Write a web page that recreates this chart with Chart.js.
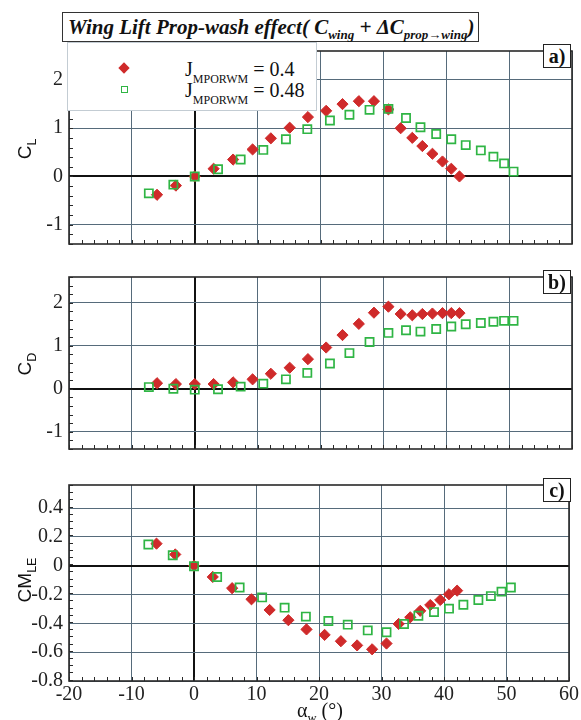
<!DOCTYPE html>
<html><head><meta charset="utf-8">
<script src="https://cdn.jsdelivr.net/npm/chart.js@4.4.1/dist/chart.umd.min.js"></script>
<style>
body{margin:0;background:#fff;width:581px;height:720px;position:relative;overflow:hidden;font-family:"Liberation Serif",serif;}
canvas{position:absolute;left:0;}
.ov{position:absolute;white-space:nowrap;}
#title{left:62px;top:12px;width:410px;height:28px;border:1.5px solid #333;background:#fff;z-index:5;
 font:bold italic 21px "Liberation Serif",serif;color:#111;line-height:28px;padding-left:5px;box-sizing:content-box;}
#title sub{font-size:13px;vertical-align:-5px;line-height:0;}
#legend{left:67px;top:42px;width:248px;height:67px;border:1px solid #c3ccd3;background:#fff;z-index:4;}
.ltxt{position:absolute;left:117px;font:20px "Liberation Serif",serif;color:#111;line-height:20px;}
.ltxt sub{font-size:12px;vertical-align:-7px;line-height:0;}
.dia{position:absolute;width:8px;height:8px;background:#cf2a2a;transform:rotate(45deg);}
.sq{position:absolute;width:5px;height:5px;border:1.7px solid #2fb544;background:#fff;}
.tag{position:absolute;width:26px;height:22px;border:1.5px solid #222;background:#fff;font:bold 20px "Liberation Serif",serif;
 text-align:center;line-height:22px;color:#111;z-index:3;}
.ytitle{position:absolute;font:19px "Liberation Sans",Arial,sans-serif;color:#111;transform:translate(-50%,-50%) rotate(-90deg);white-space:nowrap;}
.ytitle sub{font-size:12.5px;vertical-align:-5px;line-height:0;}
#xtitle{position:absolute;left:320px;top:710px;transform:translate(-50%,-50%);font:20px "Liberation Serif",serif;color:#111;white-space:nowrap;}
#xtitle sub{font-size:12.5px;vertical-align:-5px;line-height:0;}
</style></head><body>
<canvas id="ca" width="581" height="229" style="top:33px"></canvas>
<canvas id="cb" width="581" height="208" style="top:259px"></canvas>
<canvas id="cc" width="581" height="253" style="top:467px"></canvas>

<div id="title" class="ov">Wing Lift Prop-wash effect( C<sub>wing</sub> + ΔC<sub>prop→wing</sub>)</div>
<div id="legend" class="ov">
  <div class="dia" style="left:52px;top:21px"></div>
  <div class="ltxt" style="top:16px">J<sub>MPORWM</sub> = 0.4</div>
  <div class="sq" style="left:53px;top:43px"></div>
  <div class="ltxt" style="top:37px">J<sub>MPORWM</sub> = 0.48</div>
</div>
<div class="tag" style="left:543px;top:44px">a)</div>
<div class="tag" style="left:543px;top:270px">b)</div>
<div class="tag" style="left:543px;top:478px">c)</div>
<div class="ytitle" style="left:25px;top:149px">C<sub>L</sub></div>
<div class="ytitle" style="left:25px;top:364px">C<sub>D</sub></div>
<div class="ytitle" style="left:25px;top:580px">CM<sub>LE</sub></div>
<div id="xtitle">α<sub>w</sub> (°)</div>

<script>
// ---- data ----
const alphaJ04  = [-6, -3, 0, 3, 6.1, 9.2, 12.1, 15.1, 18, 20.9, 23.5, 26.1, 28.5, 30.8, 32.75, 34.6, 36.2, 37.8, 39.4, 40.8, 42.1];
const alphaJ048 = [-7.3, -3.4, 0, 3.7, 7.3, 10.9, 14.5, 17.9, 21.5, 24.6, 27.8, 30.8, 33.6, 35.9, 38.4, 40.8, 43.1, 45.5, 47.5, 49.2, 50.7];

const clJ04  = [-0.38, -0.19, 0, 0.16, 0.35, 0.56, 0.79, 1.01, 1.23, 1.36, 1.50, 1.56, 1.56, 1.39, 1.00, 0.80, 0.63, 0.47, 0.31, 0.16, 0.0];
const clJ048 = [-0.35, -0.17, 0, 0.15, 0.35, 0.55, 0.77, 0.98, 1.16, 1.28, 1.38, 1.40, 1.21, 1.02, 0.88, 0.77, 0.65, 0.54, 0.41, 0.27, 0.10];

const cdJ04  = [0.13, 0.11, 0.11, 0.11, 0.15, 0.22, 0.35, 0.49, 0.69, 0.96, 1.25, 1.51, 1.77, 1.91, 1.74, 1.71, 1.74, 1.75, 1.76, 1.76, 1.76];
const cdJ048 = [0.04, 0.0, -0.02, -0.01, 0.05, 0.12, 0.22, 0.37, 0.59, 0.83, 1.09, 1.30, 1.36, 1.33, 1.39, 1.45, 1.50, 1.53, 1.56, 1.58, 1.58];

const cmJ04  = [0.153, 0.078, 0, -0.078, -0.156, -0.233, -0.307, -0.378, -0.442, -0.48, -0.524, -0.553, -0.58, -0.54, -0.404, -0.358, -0.313, -0.273, -0.238, -0.198, -0.173];
const cmJ048 = [0.147, 0.073, -0.004, -0.078, -0.151, -0.22, -0.291, -0.353, -0.384, -0.409, -0.449, -0.462, -0.404, -0.347, -0.322, -0.298, -0.271, -0.238, -0.211, -0.18, -0.151];

const seriesLabels = ['J_MPORWM = 0.4', 'J_MPORWM = 0.48'];
const xTicks  = [-20, -10, 0, 10, 20, 30, 40, 50, 60];
const clTicks = [-1, 0, 1, 2];
const cdTicks = [-1, 0, 1, 2];
const cmTicks = [-0.8, -0.6, -0.4, -0.2, 0, 0.2, 0.4];

// ---- styling ----
const RED = '#cf2a2a', GREEN = '#2fb544', GRID = '#566b7b', FRAME = '#2a2a2a';
const tickFont = {family: 'Liberation Serif, Times New Roman, serif', size: 20};

const framePlugin = {
  id: 'frame',
  beforeDatasetsDraw(chart, args, opts) {
    const {ctx, chartArea: a, scales: {x, y}} = chart;
    ctx.save();
    ctx.strokeStyle = FRAME;
    ctx.lineWidth = 1;
    ctx.beginPath();
    for (let v = x.min; v <= x.max + 1e-9; v += opts.xMinor) {
      const px = Math.round(x.getPixelForValue(v)) + 0.5;
      ctx.moveTo(px, a.bottom); ctx.lineTo(px, a.bottom - 4);
    }
    const n = Math.round((y.max - y.min) / opts.yMinor);
    for (let i = 0; i <= n; i++) {
      const v = y.max - i * opts.yMinor;
      const py = Math.round(y.getPixelForValue(v)) + 0.5;
      ctx.moveTo(a.left, py); ctx.lineTo(a.left + 4, py);
    }
    ctx.stroke();
    ctx.lineWidth = 1.6;
    ctx.strokeRect(a.left, a.top, a.right - a.left, a.bottom - a.top);
    ctx.restore();
  }
};

function pts(xs, ys) { return xs.map((v, i) => ({x: v, y: ys[i]})); }

function panel(id, yMin, yMax, yTicks, yMinor, redY, greenY, showX) {
  const zeroCol = c => (c.tick && c.tick.value === 0) ? '#111' : GRID;
  const zeroW = c => (c.tick && c.tick.value === 0) ? 2 : 1;
  return new Chart(document.getElementById(id), {
    type: 'scatter',
    data: {
      datasets: [
        {label: seriesLabels[0], data: pts(alphaJ04, redY), pointStyle: 'rectRot', pointRadius: 5.6,
         backgroundColor: RED, borderColor: RED, borderWidth: 1, order: 2},
        {label: seriesLabels[1], data: pts(alphaJ048, greenY), pointStyle: 'rect', pointRadius: 5.8,
         backgroundColor: 'rgba(255,255,255,0)', borderColor: GREEN, borderWidth: 1.7, order: 1}
      ]
    },
    options: {
      responsive: false, animation: false, devicePixelRatio: 1,
      layout: {padding: {left: 0, right: 9, top: 10, bottom: 0}},
      plugins: {legend: {display: false}, tooltip: {enabled: false}, title: {display: false},
                frame: {xMinor: 2, yMinor: yMinor}},
      scales: {
        x: {
          type: 'linear', min: -20, max: 60,
          afterBuildTicks: s => { s.ticks = xTicks.map(v => ({value: v})); },
          ticks: {display: showX, font: tickFont, color: '#222', padding: 2, maxRotation: 0, autoSkip: false,
                  callback: v => String(v)},
          grid: {color: zeroCol, lineWidth: zeroW, drawTicks: false},
          border: {display: false},
          afterFit: s => { s.height = showX ? 39 : 10; }
        },
        y: {
          type: 'linear', min: yMin, max: yMax,
          afterBuildTicks: s => { s.ticks = yTicks.map(v => ({value: v})); },
          ticks: {font: tickFont, color: '#222', padding: 6, autoSkip: false, callback: v => String(v)},
          grid: {color: zeroCol, lineWidth: zeroW, drawTicks: false},
          border: {display: false},
          afterFit: s => { s.width = 69; }
        }
      }
    },
    plugins: [framePlugin]
  });
}

panel('ca', -1.4, 2.6, clTicks, 0.2, clJ04, clJ048, false);
panel('cb', -1.4, 2.6, cdTicks, 0.2, cdJ04, cdJ048, false);
panel('cc', -0.8, 0.56, cmTicks, 0.05, cmJ04, cmJ048, true);
</script>
</body></html>
